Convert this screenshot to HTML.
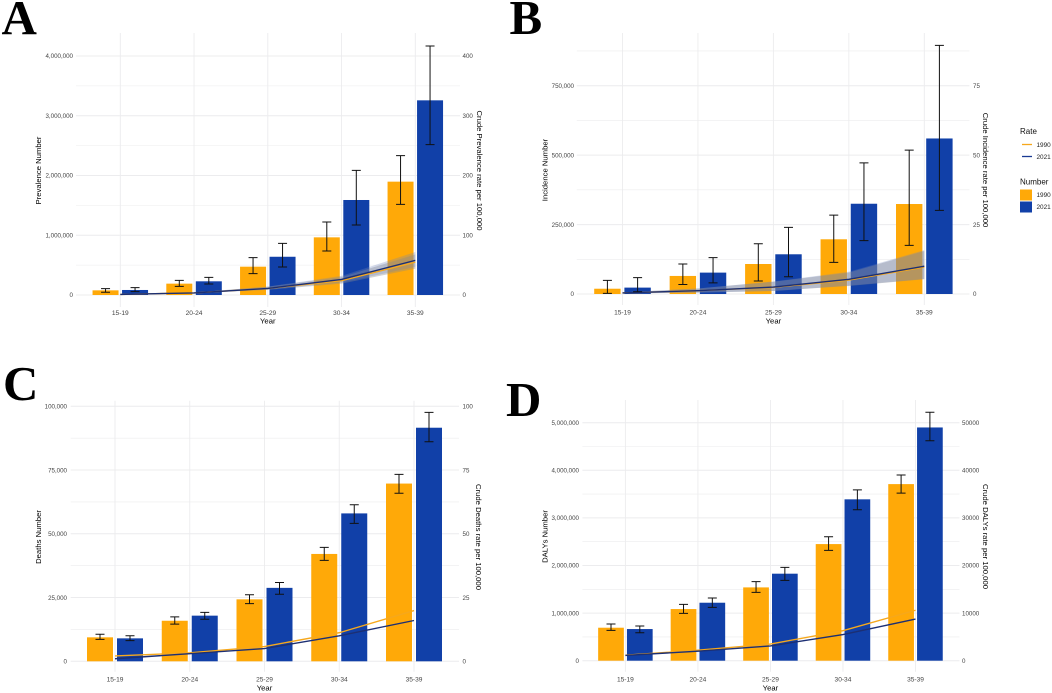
<!DOCTYPE html>
<html lang="en">
<head>
<meta charset="utf-8">
<title>Age-group burden charts</title>
<style>
html,body{margin:0;padding:0;background:#fff;}
#stage{display:block;width:1052px;height:693px;font-family:"Liberation Sans",sans-serif;}
.tick{font-size:6.2px;fill:#444;}
.cat{font-size:6.6px;fill:#444;}
.title{font-size:7.7px;fill:#000;}
.letter{font-family:"Liberation Serif",serif;font-weight:700;font-size:49px;fill:#000;}
.legend-title{font-size:8px;fill:#111;}
.legend-text{font-size:6.4px;fill:#222;}
</style>
</head>
<body>
<svg id="stage" xmlns="http://www.w3.org/2000/svg" width="1052" height="693" viewBox="0 0 1052 693">
  <rect x="0" y="0" width="1052" height="693" fill="#fff"/>
  <g id="plots" style="filter:blur(0.3px)"></g>
  <text class="letter" x="1.5" y="34">A</text>
  <text class="letter" x="509.5" y="34">B</text>
  <text class="letter" x="3" y="400">C</text>
  <text class="letter" x="506" y="416">D</text>
  <g>
    <text class="legend-title" x="1020" y="134">Rate</text>
    <line x1="1022" x2="1032" y1="144.5" y2="144.5" stroke="#f6a81c" stroke-width="1.3"/>
    <text class="legend-text" x="1036.5" y="147">1990</text>
    <line x1="1022" x2="1032" y1="156.5" y2="156.5" stroke="#1a3a94" stroke-width="1.3"/>
    <text class="legend-text" x="1036.5" y="159">2021</text>
    <text class="legend-title" x="1020" y="184.5">Number</text>
    <rect x="1020" y="189.5" width="12" height="11" fill="#ffa908"/>
    <text class="legend-text" x="1036.5" y="197">1990</text>
    <rect x="1020" y="201.5" width="12" height="11" fill="#1140a8"/>
    <text class="legend-text" x="1036.5" y="209">2021</text>
  </g>
</svg>
<script>
// ---------- shared categories ----------
const categories = ["15-19", "20-24", "25-29", "30-34", "35-39"];

// ---------- Panel A: Prevalence ----------
const prevalenceTicks = [0, 1000000, 2000000, 3000000, 4000000];
const prevalenceTickLabels = ["0", "1,000,000", "2,000,000", "3,000,000", "4,000,000"];
const prevalenceRateTicks = [0, 100, 200, 300, 400];
const prevalence1990 = [78000, 190000, 474000, 965000, 1897000];
const prevalence2021 = [84000, 229000, 640000, 1590000, 3258000];
const prevalence1990Low = [45000, 145000, 357000, 736000, 1517000];
const prevalence1990High = [106000, 245000, 625000, 1222000, 2332000];
const prevalence2021Low = [56000, 184000, 469000, 1172000, 2516000];
const prevalence2021High = [123000, 296000, 865000, 2086000, 4167000];
const prevalenceRate1990 = [1, 3.5, 11, 24, 55];
const prevalenceRate2021 = [1, 3.5, 11, 26, 58];
const prevalenceRate1990Low = [0.7, 2.9, 8.5, 19, 44];
const prevalenceRate1990High = [1.3, 4.1, 14, 30, 68];
const prevalenceRate2021Low = [0.7, 3, 9, 21, 47];
const prevalenceRate2021High = [1.3, 4, 14, 32, 72];

// ---------- Panel B: Incidence ----------
const incidenceTicks = [0, 250000, 500000, 750000];
const incidenceTickLabels = ["0", "250,000", "500,000", "750,000"];
const incidenceRateTicks = [0, 25, 50, 75];
const incidence1990 = [19000, 65000, 108000, 197000, 324000];
const incidence2021 = [23000, 77000, 143000, 325000, 560000];
const incidence1990Low = [2400, 34000, 47000, 114000, 175000];
const incidence1990High = [49000, 108000, 181000, 284000, 518000];
const incidence2021Low = [8000, 40000, 62000, 192000, 301000];
const incidence2021High = [59000, 131000, 240000, 472000, 895000];
const incidenceRate1990 = [0.4, 1.2, 2.4, 5, 9.7];
const incidenceRate2021 = [0.4, 1.2, 2.5, 5.3, 10];
const incidenceRate1990Low = [0.2, 0.5, 1.1, 2.9, 5.3];
const incidenceRate1990High = [0.6, 2, 4.4, 7.7, 15.5];
const incidenceRate2021Low = [0.2, 0.5, 1.1, 3, 5.4];
const incidenceRate2021High = [0.6, 2, 4.5, 8, 15.8];

// ---------- Panel C: Deaths ----------
const deathsTicks = [0, 25000, 50000, 75000, 100000];
const deathsTickLabels = ["0", "25,000", "50,000", "75,000", "100,000"];
const deathsRateTicks = [0, 25, 50, 75, 100];
const deaths1990 = [9400, 15900, 24300, 42100, 69700];
const deaths2021 = [9000, 17900, 28800, 58000, 91600];
const deaths1990Low = [8600, 14600, 22600, 39600, 65900];
const deaths1990High = [10600, 17400, 26100, 44700, 73300];
const deaths2021Low = [8100, 16500, 26300, 54100, 86100];
const deaths2021High = [10000, 19200, 30900, 61400, 97600];
const deathsRate1990 = [2.1, 3.3, 5.8, 11.2, 19.9];
const deathsRate2021 = [1, 3, 5, 10, 16];

// ---------- Panel D: DALYs ----------
const dalysTicks = [0, 1000000, 2000000, 3000000, 4000000, 5000000];
const dalysTickLabels = ["0", "1,000,000", "2,000,000", "3,000,000", "4,000,000", "5,000,000"];
const dalysRateTicks = [0, 10000, 20000, 30000, 40000, 50000];
const dalys1990 = [693000, 1085000, 1540000, 2450000, 3710000];
const dalys2021 = [665000, 1218000, 1828000, 3390000, 4900000];
const dalys1990Low = [637000, 994000, 1436000, 2318000, 3520000];
const dalys1990High = [770000, 1183000, 1660000, 2605000, 3900000];
const dalys2021Low = [588000, 1120000, 1688000, 3170000, 4620000];
const dalys2021High = [728000, 1316000, 1960000, 3590000, 5220000];
const dalysRate1990 = [1150, 2200, 3500, 6300, 10600];
const dalysRate2021 = [1100, 2000, 3100, 5500, 8750];

// ---------- panel definitions (layout kept apart from the data) ----------
const panels = [
  { id: "prevalence", left: "Prevalence Number", right: "Crude Prevalence rate per 100,000",
    ticks: prevalenceTicks, labels: prevalenceTickLabels, rateTicks: prevalenceRateTicks,
    n90: prevalence1990, n21: prevalence2021, lo90: prevalence1990Low, hi90: prevalence1990High,
    lo21: prevalence2021Low, hi21: prevalence2021High, r90: prevalenceRate1990, r21: prevalenceRate2021,
    ribbon90: [prevalenceRate1990Low, prevalenceRate1990High], ribbon21: [prevalenceRate2021Low, prevalenceRate2021High],
    layout: { x0: 76, x1: 460, top: 33, bottom: 307, base: 295, maxY: 56, first: 120.3, last: 415.3, barW: 26, off: 14.75,
      leftTickX: 73, rightTickX: 462.5, leftTitleX: 38, rightTitleX: 480, titleY: 170.5, tickY: 315, yearY: 323.5 } },
  { id: "incidence", left: "Incidence Number", right: "Crude Incidence rate per 100,000",
    ticks: incidenceTicks, labels: incidenceTickLabels, rateTicks: incidenceRateTicks,
    n90: incidence1990, n21: incidence2021, lo90: incidence1990Low, hi90: incidence1990High,
    lo21: incidence2021Low, hi21: incidence2021High, r90: incidenceRate1990, r21: incidenceRate2021,
    ribbon90: [incidenceRate1990Low, incidenceRate1990High], ribbon21: [incidenceRate2021Low, incidenceRate2021High],
    layout: { x0: 576.8, x1: 969.4, top: 33, bottom: 305, base: 294, maxY: 85.7, first: 622.5, last: 924.3, barW: 26.4, off: 15.1,
      leftTickX: 574, rightTickX: 973, leftTitleX: 544.7, rightTitleX: 986, titleY: 170, tickY: 314.5, yearY: 323.5 } },
  { id: "deaths", left: "Deaths Number", right: "Crude Deaths rate per 100,000",
    ticks: deathsTicks, labels: deathsTickLabels, rateTicks: deathsRateTicks,
    n90: deaths1990, n21: deaths2021, lo90: deaths1990Low, hi90: deaths1990High,
    lo21: deaths2021Low, hi21: deaths2021High, r90: deathsRate1990, r21: deathsRate2021,
    ribbon90: null, ribbon21: null,
    layout: { x0: 70.7, x1: 459, top: 400.7, bottom: 671.7, base: 661.3, maxY: 406.3, first: 115, last: 414, barW: 26, off: 15,
      leftTickX: 67, rightTickX: 462.5, leftTitleX: 38, rightTitleX: 479, titleY: 537, tickY: 681.5, yearY: 690.5 } },
  { id: "dalys", left: "DALYs Number", right: "Crude DALYs rate per 100,000",
    ticks: dalysTicks, labels: dalysTickLabels, rateTicks: dalysRateTicks,
    n90: dalys1990, n21: dalys2021, lo90: dalys1990Low, hi90: dalys1990High,
    lo21: dalys2021Low, hi21: dalys2021High, r90: dalysRate1990, r21: dalysRate2021,
    ribbon90: null, ribbon21: null,
    layout: { x0: 582.4, x1: 959.5, top: 400, bottom: 671.7, base: 660.7, maxY: 422.7, first: 625.4, last: 915.5, barW: 25.7, off: 14.4,
      leftTickX: 579, rightTickX: 962, leftTitleX: 544.7, rightTitleX: 986, titleY: 536.5, tickY: 681.5, yearY: 690.5 } }
];

const COLOR_90 = "#ffa908";
const COLOR_21 = "#1140a8";
const LINE_90 = "#f6a81c";
const LINE_21 = "#1c2f73";
const GRID = "#ececee";
const SVG_NS = "http://www.w3.org/2000/svg";

function mk(tag, attrs, parent, text) {
  const node = document.createElementNS(SVG_NS, tag);
  for (const k in attrs) node.setAttribute(k, attrs[k]);
  if (text !== undefined) node.textContent = text;
  parent.appendChild(node);
  return node;
}

function linePath(xs, ys) {
  return xs.map((x, i) => (i ? "L" : "M") + x.toFixed(2) + " " + ys[i].toFixed(2)).join("");
}

function ribbonPath(xs, lowYs, highYs) {
  const upper = xs.map((x, i) => (i ? "L" : "M") + x.toFixed(2) + " " + highYs[i].toFixed(2)).join("");
  const lower = xs.slice().reverse().map((x, i) => "L" + x.toFixed(2) + " " + lowYs[xs.length - 1 - i].toFixed(2)).join("");
  return upper + lower + "Z";
}

function drawPanel(p, root) {
  const L = p.layout;
  const g = mk("g", {}, root);
  
  

  const maxTick = p.ticks[p.ticks.length - 1];
  const maxRate = p.rateTicks[p.rateTicks.length - 1];
  const yLeft = v => L.base - (v / maxTick) * (L.base - L.maxY);
  const yRight = v => L.base - (v / maxRate) * (L.base - L.maxY);
  const xCat = i => L.first + i * (L.last - L.first) / (categories.length - 1);
  const xs = categories.map((c, i) => xCat(i));

  // gridlines
  const gridG = mk("g", {}, g);
  
  
  const tickStep = p.ticks[1] - p.ticks[0];
  for (let v = tickStep / 2; yLeft(v) >= L.top; v += tickStep) {
    const minor = mk("line", { x1: L.x0, x2: L.x1, y1: yLeft(v), y2: yLeft(v), stroke: GRID, "stroke-width": 0.6 }, gridG);
    
    
  }
  p.ticks.forEach(v => {
    const major = mk("line", { x1: L.x0, x2: L.x1, y1: yLeft(v), y2: yLeft(v), stroke: GRID, "stroke-width": 1 }, gridG);
    
    
  });
  xs.forEach(x => {
    const vert = mk("line", { x1: x, x2: x, y1: L.top, y2: L.bottom, stroke: GRID, "stroke-width": 0.9 }, gridG);
    
    
  });

  // bars
  categories.forEach((c, i) => {
    const b90 = mk("rect", { x: xCat(i) - L.off - L.barW / 2, y: yLeft(p.n90[i]), width: L.barW, height: L.base - yLeft(p.n90[i]), fill: COLOR_90 }, g);
    
    
    const b21 = mk("rect", { x: xCat(i) + L.off - L.barW / 2, y: yLeft(p.n21[i]), width: L.barW, height: L.base - yLeft(p.n21[i]), fill: COLOR_21 }, g);
    
    
  });

  // confidence ribbons
  if (p.ribbon90) {
    const r90 = mk("path", { d: ribbonPath(xs, p.ribbon90[0].map(yRight), p.ribbon90[1].map(yRight)), fill: "#8c8c8c", "fill-opacity": 0.38 }, g);
    
    
    const r21 = mk("path", { d: ribbonPath(xs, p.ribbon21[0].map(yRight), p.ribbon21[1].map(yRight)), fill: "#6f86b8", "fill-opacity": 0.3 }, g);
    
    
  }

  // rate lines
  const l90 = mk("path", { d: linePath(xs, p.r90.map(yRight)), fill: "none", stroke: LINE_90, "stroke-width": 1.4 }, g);
  
  
  const l21 = mk("path", { d: linePath(xs, p.r21.map(yRight)), fill: "none", stroke: LINE_21, "stroke-width": 1.4 }, g);
  
  

  // error bars
  categories.forEach((c, i) => {
    const x90 = xCat(i) - L.off;
    const x21 = xCat(i) + L.off;
    const capHalf = 4.5;
    const e90 = mk("path", { d: "M" + (x90 - capHalf) + " " + yLeft(p.hi90[i]) + "H" + (x90 + capHalf) + "M" + x90 + " " + yLeft(p.hi90[i]) + "V" + yLeft(p.lo90[i]) + "M" + (x90 - capHalf) + " " + yLeft(p.lo90[i]) + "H" + (x90 + capHalf), fill: "none", stroke: "#111", "stroke-width": 1 }, g);
    
    
    const e21 = mk("path", { d: "M" + (x21 - capHalf) + " " + yLeft(p.hi21[i]) + "H" + (x21 + capHalf) + "M" + x21 + " " + yLeft(p.hi21[i]) + "V" + yLeft(p.lo21[i]) + "M" + (x21 - capHalf) + " " + yLeft(p.lo21[i]) + "H" + (x21 + capHalf), fill: "none", stroke: "#111", "stroke-width": 1 }, g);
    
    
  });

  // left axis labels
  p.ticks.forEach((v, i) => {
    const t = mk("text", { class: "tick", x: L.leftTickX, y: yLeft(v) + 2.2, "text-anchor": "end" }, g, p.labels[i]);
    
    
  });
  // right axis labels
  p.rateTicks.forEach(v => {
    const t = mk("text", { class: "tick", x: L.rightTickX, y: yRight(v) + 2.2 }, g, String(v));
    
    
  });
  // category labels
  categories.forEach((c, i) => {
    const t = mk("text", { class: "cat", x: xCat(i), y: L.tickY, "text-anchor": "middle" }, g, c);
    
    
  });

  // axis titles
  const xMid = (L.first + L.last) / 2;
  const xTitle = mk("text", { class: "title", x: xMid, y: L.yearY, "text-anchor": "middle" }, g, "Year");
  
  
  const yTitle = mk("text", { class: "title", transform: "translate(" + (L.leftTitleX + 2.8) + " " + L.titleY + ") rotate(-90)", "text-anchor": "middle" }, g, p.left);
  
  
  const rTitle = mk("text", { class: "title", transform: "translate(" + (L.rightTitleX - 2.8) + " " + L.titleY + ") rotate(90)", "text-anchor": "middle" }, g, p.right);
  
  
}

const plotsRoot = document.getElementById("plots");
panels.forEach(p => drawPanel(p, plotsRoot));
</script>
</body>
</html>
